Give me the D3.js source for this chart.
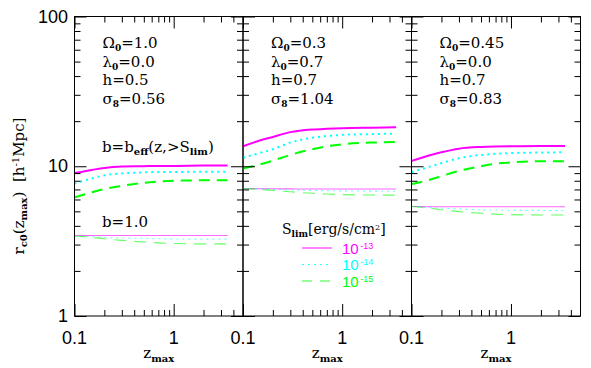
<!DOCTYPE html>
<html><head><meta charset="utf-8">
<script src="https://cdn.jsdelivr.net/npm/d3@7"></script>
<style>
body{margin:0;background:#fff;}
svg{display:block;}
.tk{font-family:"Liberation Sans",Arial,sans-serif;font-size:18px;fill:#000;}
.sf{font-family:"DejaVu Serif",serif;font-size:15px;fill:#000;}
</style>
</head><body>
<svg id="c" width="591" height="368"></svg>
<script>
// ---- data ----
const zGrid = [0.1, 0.15, 0.2, 0.3, 0.5, 0.7, 1, 2, 3.5];
const panelParams = [
  ["Ω","0","=1.0","λ","0","=0.0","h=0.5","σ","8","=0.56"],
  ["Ω","0","=0.3","λ","0","=0.7","h=0.7","σ","8","=1.04"],
  ["Ω","0","=0.45","λ","0","=0.0","h=0.7","σ","8","=0.83"]
];
const seriesNames = ["1e-13","1e-14","1e-15"];
const legendExp = ["-13","-14","-15"];
// panel 1 (b = b_eff) and (b = 1)
const p1Eff13 = [9.0, 9.45, 9.75, 9.95, 10.0, 10.05, 10.05, 10.1, 10.1];
const p1Eff14 = [7.65, 8.3, 8.7, 8.95, 9.1, 9.15, 9.15, 9.2, 9.2];
const p1Eff15 = [6.2, 6.7, 7.05, 7.4, 7.75, 7.9, 8.0, 8.05, 8.05];
const p1One13 = [3.45, 3.45, 3.45, 3.45, 3.45, 3.45, 3.45, 3.45, 3.45];
const p1One14 = [3.42, 3.38, 3.35, 3.32, 3.3, 3.28, 3.27, 3.26, 3.26];
const p1One15 = [3.42, 3.35, 3.28, 3.2, 3.12, 3.08, 3.05, 3.03, 3.03];
// panel 2
const p2Eff13 = [13.6, 14.9, 15.7, 16.9, 17.6, 17.8, 17.95, 18.1, 18.2];
const p2Eff14 = [11.4, 12.3, 13.0, 14.4, 15.5, 15.9, 16.2, 16.4, 16.5];
const p2Eff15 = [9.65, 10.3, 10.9, 11.9, 13.0, 13.6, 14.0, 14.4, 14.5];
const p2One13 = [7.1, 7.08, 7.07, 7.06, 7.05, 7.05, 7.05, 7.05, 7.05];
const p2One14 = [7.1, 7.05, 7.0, 6.95, 6.9, 6.87, 6.85, 6.82, 6.81];
const p2One15 = [7.1, 7.0, 6.9, 6.75, 6.6, 6.52, 6.47, 6.42, 6.41];
// panel 3
const p3Eff13 = [10.85, 11.8, 12.4, 13.1, 13.45, 13.55, 13.6, 13.65, 13.65];
const p3Eff14 = [9.15, 9.9, 10.5, 11.3, 11.9, 12.1, 12.25, 12.35, 12.4];
const p3Eff15 = [7.6, 8.1, 8.6, 9.3, 10.0, 10.4, 10.6, 10.8, 10.8];
const p3One13 = [5.38, 5.37, 5.37, 5.36, 5.36, 5.36, 5.36, 5.36, 5.36];
const p3One14 = [5.38, 5.3, 5.25, 5.18, 5.12, 5.1, 5.08, 5.07, 5.07];
const p3One15 = [5.38, 5.25, 5.12, 4.98, 4.85, 4.79, 4.75, 4.73, 4.73];
const xMajorTicks = [0.1, 1];
const xMinorTicks = [0.2,0.3,0.4,0.5,0.6,0.7,0.8,0.9,2,3,4];
const yMajorTicks = [1, 10, 100];
const yMinorTicks = [2,3,4,5,6,7,8,9,20,30,40,50,60,70,80,90];
const xTickLabels = ["0.1","1"];
const yTickLabels = ["1","10","100"];

const panels = [
  {eff:[p1Eff13,p1Eff14,p1Eff15], one:[p1One13,p1One14,p1One15]},
  {eff:[p2Eff13,p2Eff14,p2Eff15], one:[p2One13,p2One14,p2One15]},
  {eff:[p3Eff13,p3Eff14,p3Eff15], one:[p3One13,p3One14,p3One15]}
];

// ---- styles ----
const colors = ["#ff00ff","#00ffff","#00ff00"];
const dashEff = [null, "2,4", "11,7"];
const dashOne = [null, "2,4", "12,8"];

const svg = d3.select("#c");
const yTop = 16.5, yBot = 316;
const edges = [74.5, 243, 411.5, 580.5];
const y = d3.scaleLog().domain([1,100]).range([yBot, yTop]);

panels.forEach((p, i) => {
  const x = d3.scaleLog().domain([0.1, 5]).range([edges[i], edges[i+1]]);
  const g = svg.append("g");
  const line = d3.line().x((d,k)=>x(zGrid[k])).y(d=>y(d)).curve(d3.curveMonotoneX);

  // curves b=1 (thin)
  p.one.forEach((s, j) => {
    g.append("path").attr("d", line(s)).attr("fill","none")
      .attr("stroke", colors[j]).attr("stroke-width",1.1).attr("opacity",0.6)
      .attr("stroke-dasharray", dashOne[j]);
  });
  // curves b_eff (thick)
  p.eff.forEach((s, j) => {
    g.append("path").attr("d", line(s)).attr("fill","none")
      .attr("stroke", colors[j]).attr("stroke-width",2)
      .attr("stroke-dasharray", dashEff[j]);
  });

  // frame
  g.append("rect").attr("x", edges[i]).attr("y", yTop)
    .attr("width", edges[i+1]-edges[i]).attr("height", yBot-yTop)
    .attr("fill","none").attr("stroke","#000").attr("stroke-width",1);

  // ticks
  const mk = (axisFn, scale, vals, size, tx, ty) => {
    g.append("g").attr("transform",`translate(${tx},${ty})`)
      .call(axisFn(scale).tickValues(vals).tickSize(size).tickFormat(""))
      .call(a => { a.select(".domain").remove(); a.selectAll("line").attr("stroke","#000"); });
  };
  mk(d3.axisBottom, x, xMajorTicks, -12, 0, yBot);
  mk(d3.axisBottom, x, xMinorTicks, -6, 0, yBot);
  mk(d3.axisTop, x, xMajorTicks, -12, 0, yTop);
  mk(d3.axisTop, x, xMinorTicks, -6, 0, yTop);
  mk(d3.axisLeft, y, yMajorTicks, -12, edges[i], 0);
  mk(d3.axisLeft, y, yMinorTicks, -6, edges[i], 0);
  mk(d3.axisRight, y, yMajorTicks, -12, edges[i+1], 0);
  mk(d3.axisRight, y, yMinorTicks, -6, edges[i+1], 0);

  // x tick labels
  xMajorTicks.forEach((v,k) => {
    g.append("text").attr("class","tk").attr("x", x(v)).attr("y", 344)
      .attr("text-anchor","middle").text(xTickLabels[k]);
  });
  // x label
  const xl = g.append("text").attr("class","sf").attr("x",(edges[i]+edges[i+1])/2).attr("y",358)
    .attr("text-anchor","middle");
  xl.append("tspan").text("z");
  xl.append("tspan").attr("dy",4).attr("font-size","10px").attr("font-weight","bold").text("max");

  // parameter text
  const pr = panelParams[i];
  const tx = edges[i] + 28;
  const rows = [[pr[0],pr[1],pr[2]],[pr[3],pr[4],pr[5]],[pr[6]],[pr[7],pr[8],pr[9]]];
  rows.forEach((r, k) => {
    const t = g.append("text").attr("class","sf").attr("x", tx).attr("y", 48 + k*18.5);
    if (r.length === 1) { t.text(r[0]); return; }
    t.append("tspan").text(r[0]);
    t.append("tspan").attr("dy",3).attr("font-size","9px").attr("font-weight","bold").text(r[1]);
    t.append("tspan").attr("dy",-3).text(r[2]);
  });
});

// y tick labels
yMajorTicks.forEach((v,k) => {
  svg.append("text").attr("class","tk").attr("x", 68).attr("y", y(v)+6)
    .attr("text-anchor","end").text(yTickLabels[k]);
});

// y label
const yl = svg.append("text").attr("class","sf")
  .attr("transform","translate(24,186) rotate(-90)").attr("text-anchor","middle");
yl.append("tspan").text("r");
yl.append("tspan").attr("dy",3).attr("font-size","10px").attr("font-weight","bold").text("c0");
yl.append("tspan").attr("dy",-3).text("(z");
yl.append("tspan").attr("dy",3).attr("font-size","10px").attr("font-weight","bold").text("max");
yl.append("tspan").attr("dy",-3).text(")\u00a0\u00a0[h");
yl.append("tspan").attr("dy",-5).attr("font-size","10px").text("-1");
yl.append("tspan").attr("dy",5).text("Mpc]");

// annotations in panel 1
const a1 = svg.append("text").attr("class","sf").attr("x",102).attr("y",152);
a1.append("tspan").text("b=b");
a1.append("tspan").attr("dy",3).attr("font-size","10px").attr("font-weight","bold").text("eff");
a1.append("tspan").attr("dy",-3).text("(z,>S");
a1.append("tspan").attr("dy",3).attr("font-size","10px").attr("font-weight","bold").text("lim");
a1.append("tspan").attr("dy",-3).text(")");
svg.append("text").attr("class","sf").attr("x",102).attr("y",227).text("b=1.0");

// legend in panel 2
const lg = svg.append("text").attr("class","sf").attr("x",282).attr("y",234).style("font-size","14px");
lg.append("tspan").text("S");
lg.append("tspan").attr("dy",3).attr("font-size","9px").attr("font-weight","bold").text("lim");
lg.append("tspan").attr("dy",-3).text("[erg/s/cm");
lg.append("tspan").attr("dy",-4).attr("font-size","8px").text("2");
lg.append("tspan").attr("dy",4).text("]");
seriesNames.forEach((n, j) => {
  const ly = 248 + j*16.5;
  svg.append("line").attr("x1",302).attr("x2",332).attr("y1",ly).attr("y2",ly)
    .attr("stroke",colors[j]).attr("stroke-width", 1.2).attr("opacity", 0.8)
    .attr("stroke-dasharray", j===0 ? null : (j===1 ? "2,4" : "10,8"));
  const t = svg.append("text").attr("class","tk").attr("x",342).attr("y",ly+5.5)
    .style("font-size","15px").style("fill", colors[j]).text("10");
  const w = t.node().getComputedTextLength();
  svg.append("text").attr("class","tk").attr("x",342 + w + 1.5).attr("y",ly+0.5)
    .style("font-size","9px").style("fill", colors[j]).text(legendExp[j]);
});
</script>
</body></html>
